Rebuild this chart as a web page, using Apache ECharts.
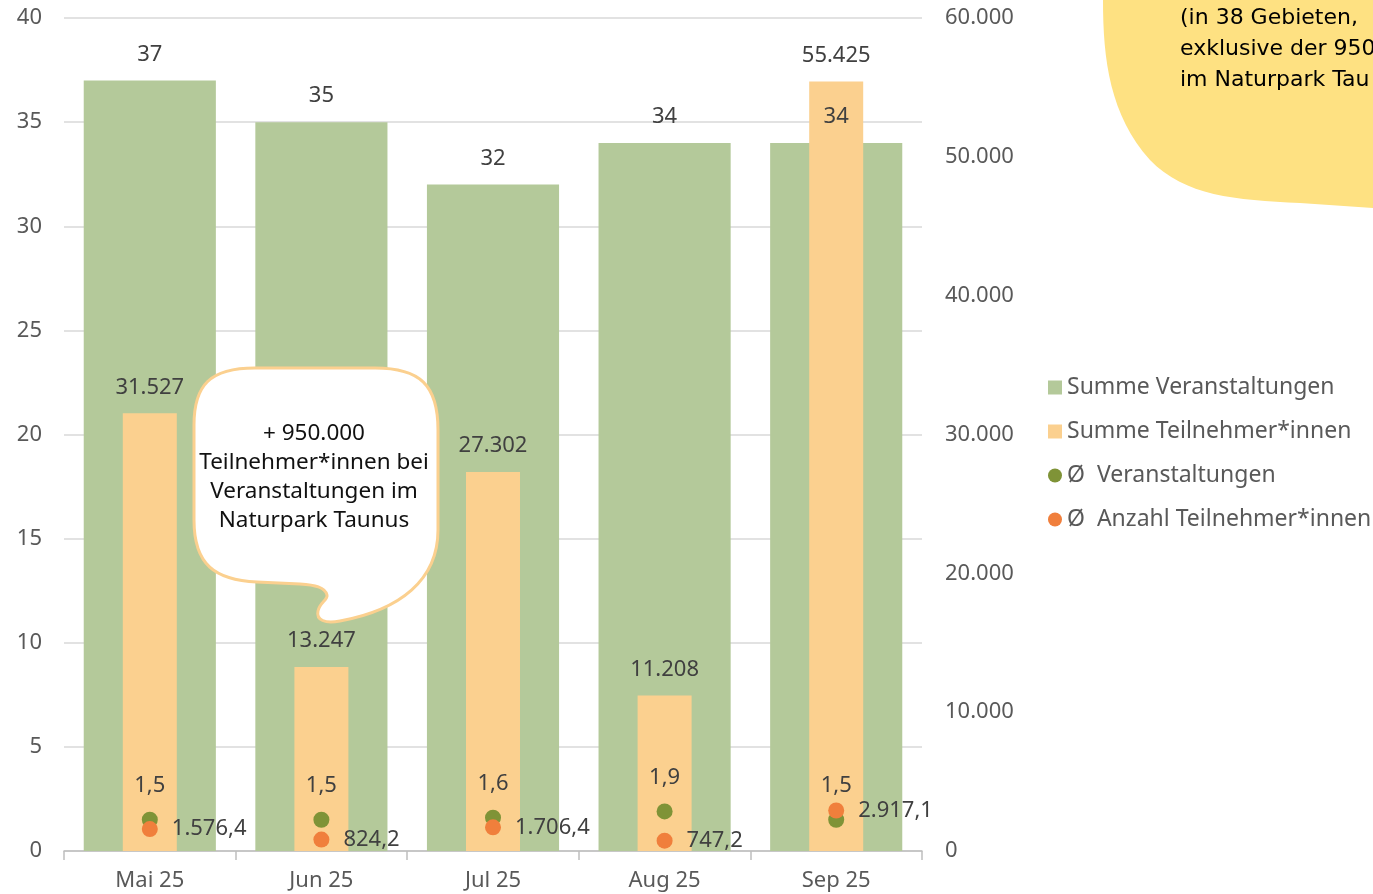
<!DOCTYPE html>
<html>
<head>
<meta charset="utf-8">
<script src="https://cdn.jsdelivr.net/npm/echarts@6/dist/echarts.min.js"></script>
<style>
html,body{margin:0;padding:0;background:#fff;}
#chart{width:1373px;height:894px;}
</style>
</head>
<body>
<div id="chart"></div>
<script>
const categories = ['Mai 25', 'Jun 25', 'Jul 25', 'Aug 25', 'Sep 25'];
const sumEvents = [37, 35, 32, 34, 34];
const sumParticipants = [31527, 13247, 27302, 11208, 55425];
const avgEvents = [1.5, 1.5, 1.6, 1.9, 1.5];
const avgParticipants = [1576.4, 824.2, 1706.4, 747.2, 2917.1];
const leftTicks = {min: 0, max: 40, interval: 5};
const rightTicks = {min: 0, max: 60000, interval: 10000};

const FONT = '"Noto Sans", sans-serif';
const FS = 22;
function de(v, dec) {
  const s = v.toFixed(dec);
  const parts = s.split('.');
  const intPart = parts[0].replace(/\B(?=(\d{3})+(?!\d))/g, '.');
  return parts.length > 1 ? intPart + ',' + parts[1] : intPart;
}

echarts.graphic.registerShape('yellowBlob', echarts.graphic.extendPath(
  'M 1103 0 C 1103 60 1110 115 1150 160 C 1185 196 1235 200 1300 203 L 1373 208 L 1373 0 Z'));
echarts.graphic.registerShape('speechBubble', echarts.graphic.extendPath(
  'M 255 368 L 375 368 C 420 368 438 385 438 430 L 438 530 C 438 580 400 610 340 621 C 325 624 316 620 318 611 C 320 602 328 600 327 595 C 325 587 315 585 300 584 L 257 582 C 215 580 194 565 194 520 L 194 425 C 194 385 210 368 255 368 Z'));

const chart = echarts.init(document.getElementById('chart'));
const labelStyle = {color: '#404040', fontSize: FS, fontFamily: FONT};

chart.setOption({
  animation: false,
  backgroundColor: '#fff',
  textStyle: {fontFamily: FONT},
  grid: {left: 64, right: 451, top: 18, bottom: 43},
  legend: {
    orient: 'vertical',
    left: 1043,
    top: 371,
    itemGap: 21,
    itemWidth: 14,
    itemHeight: 14,
    textStyle: {color: '#595959', fontSize: 23, fontFamily: FONT, lineHeight: 23},
    data: [
      {name: 'Summe Veranstaltungen', icon: 'rect'},
      {name: 'Summe Teilnehmer*innen', icon: 'rect'},
      {name: 'Ø  Veranstaltungen', icon: 'circle'},
      {name: 'Ø  Anzahl Teilnehmer*innen', icon: 'circle'}
    ]
  },
  xAxis: [
    {
      type: 'category', data: categories, gridIndex: 0,
      axisLine: {lineStyle: {color: '#BFBFBF', width: 1.5}},
      axisTick: {show: true, length: 9, lineStyle: {color: '#BFBFBF', width: 1.5}},
      axisLabel: {color: '#595959', fontSize: FS, fontFamily: FONT, margin: 19}
    },
    {type: 'category', data: categories, gridIndex: 0, show: false},
    {type: 'category', data: categories, gridIndex: 0, show: false}
  ],
  yAxis: [
    {
      type: 'value', min: leftTicks.min, max: leftTicks.max, interval: leftTicks.interval,
      axisLine: {show: false}, axisTick: {show: false},
      axisLabel: {color: '#595959', fontSize: FS, fontFamily: FONT, margin: 22},
      splitLine: {lineStyle: {color: '#D9D9D9', width: 1.5}}
    },
    {
      type: 'value', min: rightTicks.min, max: rightTicks.max, interval: rightTicks.interval,
      axisLine: {show: false}, axisTick: {show: false}, splitLine: {show: false},
      axisLabel: {color: '#595959', fontSize: FS, fontFamily: FONT, margin: 23,
        formatter: v => de(v, 0)}
    }
  ],
  series: [
    {
      name: 'Summe Veranstaltungen', type: 'bar', xAxisIndex: 0, yAxisIndex: 0,
      data: sumEvents, barWidth: '77%', z: 1,
      itemStyle: {color: '#B4C99A'},
      label: {show: false}
    },
    {
      name: 'Summe Teilnehmer*innen', type: 'bar', xAxisIndex: 1, yAxisIndex: 1,
      data: sumParticipants, barWidth: 54, z: 2,
      itemStyle: {color: '#FBD08F'},
      label: Object.assign({show: true, position: 'top', distance: 15,
        formatter: p => de(p.value, 0)}, labelStyle)
    },
    {
      name: 'Summe Veranstaltungen', type: 'bar', xAxisIndex: 2, yAxisIndex: 0,
      data: sumEvents, barWidth: '77%', z: 3, silent: true,
      itemStyle: {color: 'rgba(0,0,0,0)'},
      label: Object.assign({show: true, position: 'top', distance: 15}, labelStyle)
    },
    {
      name: 'Ø  Veranstaltungen', type: 'scatter', xAxisIndex: 0, yAxisIndex: 0,
      data: avgEvents, symbolSize: 16, z: 4,
      itemStyle: {color: '#7F9337', opacity: 1},
      label: Object.assign({show: true, position: 'top', distance: 15,
        formatter: p => de(p.value, 1)}, labelStyle)
    },
    {
      name: 'Ø  Anzahl Teilnehmer*innen', type: 'scatter', xAxisIndex: 0, yAxisIndex: 1,
      data: avgParticipants, symbolSize: 16, z: 5,
      itemStyle: {color: '#F07F3C', opacity: 1},
      label: Object.assign({show: true, position: 'right', distance: 14,
        formatter: p => de(p.value, 1)}, labelStyle)
    }
  ],
  graphic: [
    {
      type: 'yellowBlob', z: 100,
      style: {fill: '#FEE182'}
    },
    {
      type: 'text', z: 101, x: 1180, y: 3,
      style: {text: '(in 38 Gebieten,\nexklusive der 950\nim Naturpark Tau', fill: '#000', font: '22px "DejaVu Sans", sans-serif', lineHeight: 31}
    },
    {
      type: 'speechBubble', z: 100,
      style: {fill: '#fff', stroke: '#FBD08F', lineWidth: 3}
    },
    {
      type: 'text', z: 101, x: 314, y: 419,
      style: {text: '+ 950.000\nTeilnehmer*innen bei\nVeranstaltungen im\nNaturpark Taunus', fill: '#111', font: '22.5px "Noto Sans", sans-serif', lineHeight: 29, align: 'center'}
    }
  ]
});
</script>
</body>
</html>
